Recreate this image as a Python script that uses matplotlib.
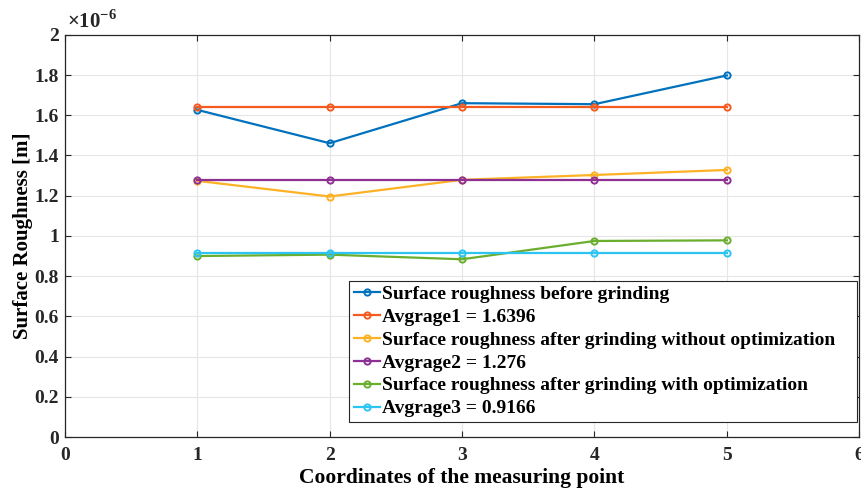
import matplotlib.pyplot as plt
from matplotlib.ticker import FuncFormatter

plt.rcParams['font.family'] = ['Liberation Serif', 'DejaVu Serif']
plt.rcParams['font.weight'] = 'bold'
plt.rcParams['mathtext.fontset'] = 'custom'
plt.rcParams['mathtext.rm'] = 'Liberation Serif'

# measuring point coordinates
points = [1, 2, 3, 4, 5]

# surface roughness in units of 1e-6 m
before = [1.627, 1.461, 1.660, 1.655, 1.798]
after_plain = [1.274, 1.196, 1.279, 1.303, 1.328]
after_opt = [0.900, 0.907, 0.884, 0.975, 0.978]
avg1 = 1.6396
avg2 = 1.276
avg3 = 0.9166

labels = ['Surface roughness before grinding',
          'Avgrage1 = 1.6396',
          'Surface roughness after grinding without optimization',
          'Avgrage2 = 1.276',
          'Surface roughness after grinding with optimization',
          'Avgrage3 = 0.9166']
colors = ['#0072BD', '#F55A1E', '#FDB124', '#8E2F94', '#6AAE2E', '#2CC4F2']

series = [before, [avg1] * 5, after_plain, [avg2] * 5, after_opt, [avg3] * 5]

fig = plt.figure(figsize=(8.62, 4.9), dpi=100)
ax = fig.add_axes([0.075, 0.108, 0.922, 0.821])

for ys, lab, c in zip(series, labels, colors):
    ax.plot(points, ys, '-o', color=c, lw=1.6, ms=4.5, mfc='none', mew=1.4, label=lab)

ax.set_xlim(0, 6)
ax.set_ylim(0, 2)
ax.set_xticks(range(0, 7))
ax.set_yticks([i * 0.2 for i in range(11)])
ax.yaxis.set_major_formatter(FuncFormatter(lambda v, p: ('%.1f' % v).rstrip('0').rstrip('.')))
ax.grid(True, color='#e6e6e6', lw=0.8)
ax.set_axisbelow(True)
ax.tick_params(direction='in', top=True, right=True, labelsize=14, colors='#262626', length=4)
ax.tick_params(axis='x', pad=7)
ax.tick_params(axis='y', pad=4)
for s in ax.spines.values():
    s.set_color('#262626')
    s.set_linewidth(0.9)

ax.text(0.003, 1.004, r'$\times10^{-6}$', transform=ax.transAxes, fontsize=15,
        ha='left', va='bottom', color='#262626')

ax.set_xlabel('Coordinates of the measuring point', fontsize=15.5, fontweight='bold', labelpad=3)
ax.set_ylabel('Surface Roughness [m]', fontsize=15, fontweight='bold', labelpad=1)

# legend box stretched to a fixed width, entries stay left aligned
leg = ax.legend(loc='lower left', mode='expand', fontsize=14, handlelength=1.35,
                handletextpad=0.1, labelspacing=0.27, borderpad=0.25, borderaxespad=0,
                fancybox=False, framealpha=1, bbox_to_anchor=(0.358, 0.037, 0.639, 0.3))
leg.get_frame().set_edgecolor('#262626')
leg.get_frame().set_linewidth(0.8)

fig.savefig('out.png', dpi=100)
